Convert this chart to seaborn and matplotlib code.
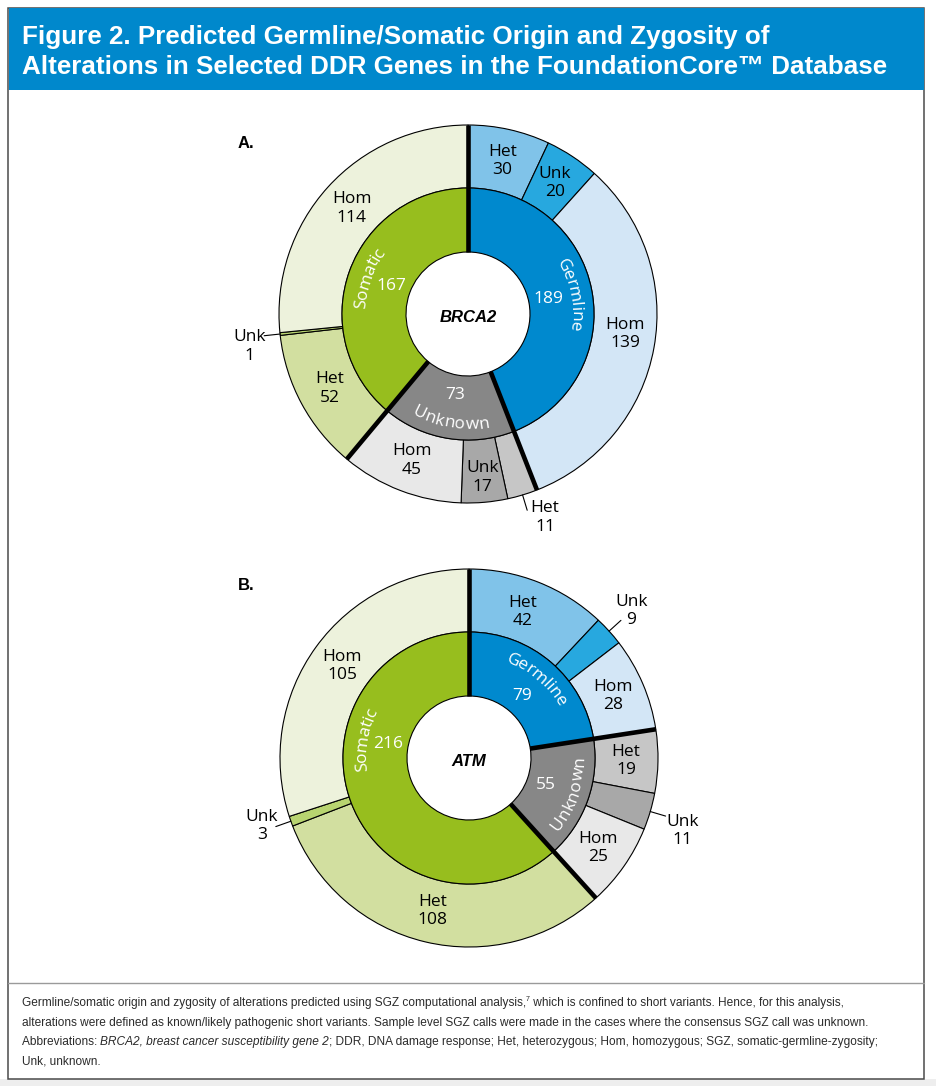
import numpy as np
import matplotlib
matplotlib.use("Agg")
import matplotlib.pyplot as plt
import seaborn as sns
from matplotlib.font_manager import FontProperties, fontManager
from matplotlib.patches import Rectangle

# ---------------- data ----------------
groups = ["Germline", "Unknown", "Somatic"]
zygosity = ["Het", "Unk", "Hom"]

gene_names = ["BRCA2", "ATM"]
panel_letters = ["A.", "B."]

brca2_group_totals = [189, 73, 167]
brca2_germline = [30, 20, 139]
brca2_unknown = [11, 17, 45]
brca2_somatic = [52, 1, 114]

atm_group_totals = [79, 55, 216]
atm_germline = [42, 9, 28]
atm_unknown = [19, 11, 25]
atm_somatic = [108, 3, 105]

title_lines = [
    "Figure 2. Predicted Germline/Somatic Origin and Zygosity of",
    "Alterations in Selected DDR Genes in the FoundationCore\u2122 Database",
]
caption_line1 = ["Germline/somatic origin and zygosity of alterations predicted using SGZ computational analysis,",
                 "7",
                 " which is confined to short variants. Hence, for this analysis,"]
caption_line2 = "alterations were defined as known/likely pathogenic short variants. Sample level SGZ calls were made in the cases where the consensus SGZ call was unknown."
caption_line3 = ["Abbreviations: ",
                 "BRCA2, breast cancer susceptibility gene 2",
                 "; DDR, DNA damage response; Het, heterozygous; Hom, homozygous; SGZ, somatic-germline-zygosity;"]
caption_line4 = "Unk, unknown."

# ---------------- style ----------------
sns.set_theme(style="white")
inner_palette = sns.color_palette(["#0089CE", "#878787", "#97BE1E"])
outer_palette = {
    "Germline": sns.color_palette(["#80C3E9", "#27A8DF", "#D3E6F6"]),
    "Unknown": sns.color_palette(["#C6C6C6", "#A8A8A8", "#E8E8E8"]),
    "Somatic": sns.color_palette(["#D2DFA0", "#B8D470", "#EDF2DC"]),
}
HEADER_BLUE = "#0088CC"

avail = {f.name for f in fontManager.ttflist}
def pick(*names):
    for n in names:
        if n in avail:
            return n
    return "DejaVu Sans"

TITLE_FONT = pick("Liberation Sans", "Arimo", "DejaVu Sans")
LABEL_FONT = pick("Open Sans", "Noto Sans", "DejaVu Sans")
CAP_FONT = pick("Liberation Sans", "DejaVu Sans")
plt.rcParams["font.family"] = [LABEL_FONT, "DejaVu Sans"]

W, H, DPI = 936, 1086, 100
fig = plt.figure(figsize=(W / DPI, H / DPI), dpi=DPI)
fig.patch.set_facecolor("white")
renderer = fig.canvas.get_renderer()

def text_w(s, fp):
    if not s:
        return 0.0
    return renderer.get_text_width_height_descent(s, fp, ismath=False)[0]

def adv(s, fp):
    return text_w(s + "|", fp) - text_w("|", fp)

# background / frame axes in pixel coordinates
bg = fig.add_axes([0, 0, 1, 1])
bg.set_xlim(0, W)
bg.set_ylim(H, 0)
bg.axis("off")

bg.add_patch(Rectangle((0, 1079), W, 7, facecolor="#EEEEEE", edgecolor="none"))
bg.add_patch(Rectangle((8, 7.5), 916, 1071, facecolor="white", edgecolor="#4A4A4A", lw=1.1))
bg.add_patch(Rectangle((8.5, 8), 915, 82, facecolor=HEADER_BLUE, edgecolor="none"))
bg.plot([8, 924], [982.5, 982.5], color="#9A9A9A", lw=1.0)

# title
fp_title = FontProperties(family=TITLE_FONT, weight="bold", size=10)
tsize = 10 * 865 / text_w(title_lines[1], fp_title)
for line, yb in zip(title_lines, [44, 74]):
    bg.text(22, yb, line, color="white", fontsize=tsize, fontweight="bold",
            family=TITLE_FONT, ha="left", va="baseline")

# caption
fp_cap0 = FontProperties(family=CAP_FONT, size=10)
csize = 10 * 854 / text_w(caption_line2, fp_cap0)
fp_cap = FontProperties(family=CAP_FONT, size=csize)
fp_cap_it = FontProperties(family=CAP_FONT, size=csize, style="italic")
fp_sup = FontProperties(family=CAP_FONT, size=csize * 0.6)
CAP_COLOR = "#2B2B2B"

x = 22
for seg, fp, dy in zip(caption_line1, [fp_cap, fp_sup, fp_cap], [0, -5, 0]):
    bg.text(x, 1006 + dy, seg, fontproperties=fp, color=CAP_COLOR, ha="left", va="baseline")
    x += adv(seg, fp)
bg.text(22, 1026, caption_line2, fontproperties=fp_cap, color=CAP_COLOR, ha="left", va="baseline")
x = 22
for seg, fp in zip(caption_line3, [fp_cap, fp_cap_it, fp_cap]):
    bg.text(x, 1045, seg, fontproperties=fp, color=CAP_COLOR, ha="left", va="baseline")
    x += adv(seg, fp)
bg.text(22, 1064, caption_line4, fontproperties=fp_cap, color=CAP_COLOR, ha="left", va="baseline")

# ---------------- donuts ----------------
R_OUT, R_MID, R_IN = 189, 126, 62
R_OUT_LAB, R_NUM, R_WORD = 157, 82, 109
fp_lab = FontProperties(family=LABEL_FONT, size=12.5)

def polar(r, th):
    t = np.radians(th)
    return r * np.sin(t), r * np.cos(t)

def curved_text(ax, s, theta_c, r_mid, mode, fp, color):
    total = text_w(s, fp)
    _, hcap, dcap = renderer.get_text_width_height_descent("H", fp, ismath=False)
    cap = hcap - dcap
    for i, ch in enumerate(s):
        c = (text_w(s[:i], fp) + text_w(s[:i + 1], fp)) / 2 - total / 2
        if mode == "cw":
            rb = r_mid - cap / 2
            th = theta_c + np.degrees(c / r_mid)
            rot = -th
        else:
            rb = r_mid + cap / 2
            th = theta_c - np.degrees(c / r_mid)
            rot = 180 - th
        xx, yy = polar(rb, th)
        ax.text(xx, yy, ch, rotation=rot, rotation_mode="anchor", ha="center",
                va="baseline", fontproperties=fp, color=color)

layouts = [
    dict(center=(468, 314), letter_pos=(238, 148),
         word_mode={"Germline": "cw", "Unknown": "ccw", "Somatic": "cw"},
         angle_override={},
         nudges={("Somatic", "Unk"): (2, 9), ("Unknown", "Het"): (13, -9),
                 ("Unknown", "Unk"): (1, 7), ("Germline", "Hom"): (3, -8)}),
    dict(center=(469, 758), letter_pos=(238, 590),
         word_mode={"Germline": "cw", "Unknown": "ccw", "Somatic": "cw"},
         angle_override={"Somatic": 280},
         nudges={("Germline", "Unk"): (-2, 2), ("Unknown", "Unk"): (1, 10), ("Somatic", "Unk"): (2, -6),
                 ("Germline", "Het"): (-4, 0)}),
]
datasets = [
    (brca2_group_totals, [brca2_germline, brca2_unknown, brca2_somatic]),
    (atm_group_totals, [atm_germline, atm_unknown, atm_somatic]),
]

S = 520
for gene, letter, (gtot, subs), lay in zip(gene_names, panel_letters, datasets, layouts):
    cx, cy = lay["center"]
    ax = fig.add_axes([(cx - S / 2) / W, 1 - (cy + S / 2) / H, S / W, S / H])
    flat = [v for grp in subs for v in grp]
    flat_cols = [c for g in groups for c in outer_palette[g]]
    ax.pie(flat, radius=R_OUT, colors=flat_cols, startangle=90, counterclock=False,
           wedgeprops=dict(width=R_OUT - R_MID, edgecolor="black", linewidth=0.8))
    ax.pie(gtot, radius=R_MID, colors=inner_palette, startangle=90, counterclock=False,
           wedgeprops=dict(width=R_MID - R_IN, edgecolor="black", linewidth=0.8))
    ax.set_xlim(-S / 2, S / 2)
    ax.set_ylim(-S / 2, S / 2)
    ax.set_aspect("equal")
    ax.axis("off")

    total = float(sum(gtot))
    # thick separators between origin groups
    bounds = np.concatenate([[0], np.cumsum(gtot)[:-1]]) / total * 360
    for th in bounds:
        x0, y0 = polar(R_IN, th)
        x1, y1 = polar(R_OUT, th)
        ax.plot([x0, x1], [y0, y1], color="black", lw=3.3, solid_capstyle="butt", zorder=3)

    # inner labels
    gstart = 0
    for g, gv in zip(groups, gtot):
        mid = (gstart + gv / 2) / total * 360
        ang = lay["angle_override"].get(g, mid)
        nx, ny = polar(R_NUM, ang)
        ax.text(nx, ny, str(gv), ha="center", va="center", fontproperties=fp_lab, color="white", zorder=4)
        curved_text(ax, g, ang, R_WORD, lay["word_mode"][g], fp_lab, "white")
        gstart += gv

    # outer labels
    cum = 0
    for g, grp in zip(groups, subs):
        for z, v in zip(zygosity, grp):
            mid = (cum + v / 2) / total * 360
            ndx, ndy = lay["nudges"].get((g, z), (0, 0))
            if v / total < 0.035:
                lx0, ly0 = polar(R_OUT, mid)
                lx1, ly1 = polar(R_OUT + 16, mid)
                ax.plot([lx0, lx1], [ly0, ly1], color="black", lw=0.8, zorder=4)
                tx, ty = polar(222, mid)
            else:
                tx, ty = polar(R_OUT_LAB, mid)
            ax.text(tx + ndx, ty - ndy, f"{z}\n{v}", ha="center", va="center",
                    fontproperties=fp_lab, color="black", linespacing=1.2, zorder=4)
            cum += v

    ax.text(0, -3, gene, ha="center", va="center", fontsize=12, fontweight="bold",
            style="italic", family=TITLE_FONT, color="black", zorder=4)
    bg.text(lay["letter_pos"][0], lay["letter_pos"][1], letter, ha="left", va="baseline",
            fontsize=12, fontweight="bold", family=TITLE_FONT, color="black")

fig.savefig("out.png", dpi=DPI, facecolor="white")
